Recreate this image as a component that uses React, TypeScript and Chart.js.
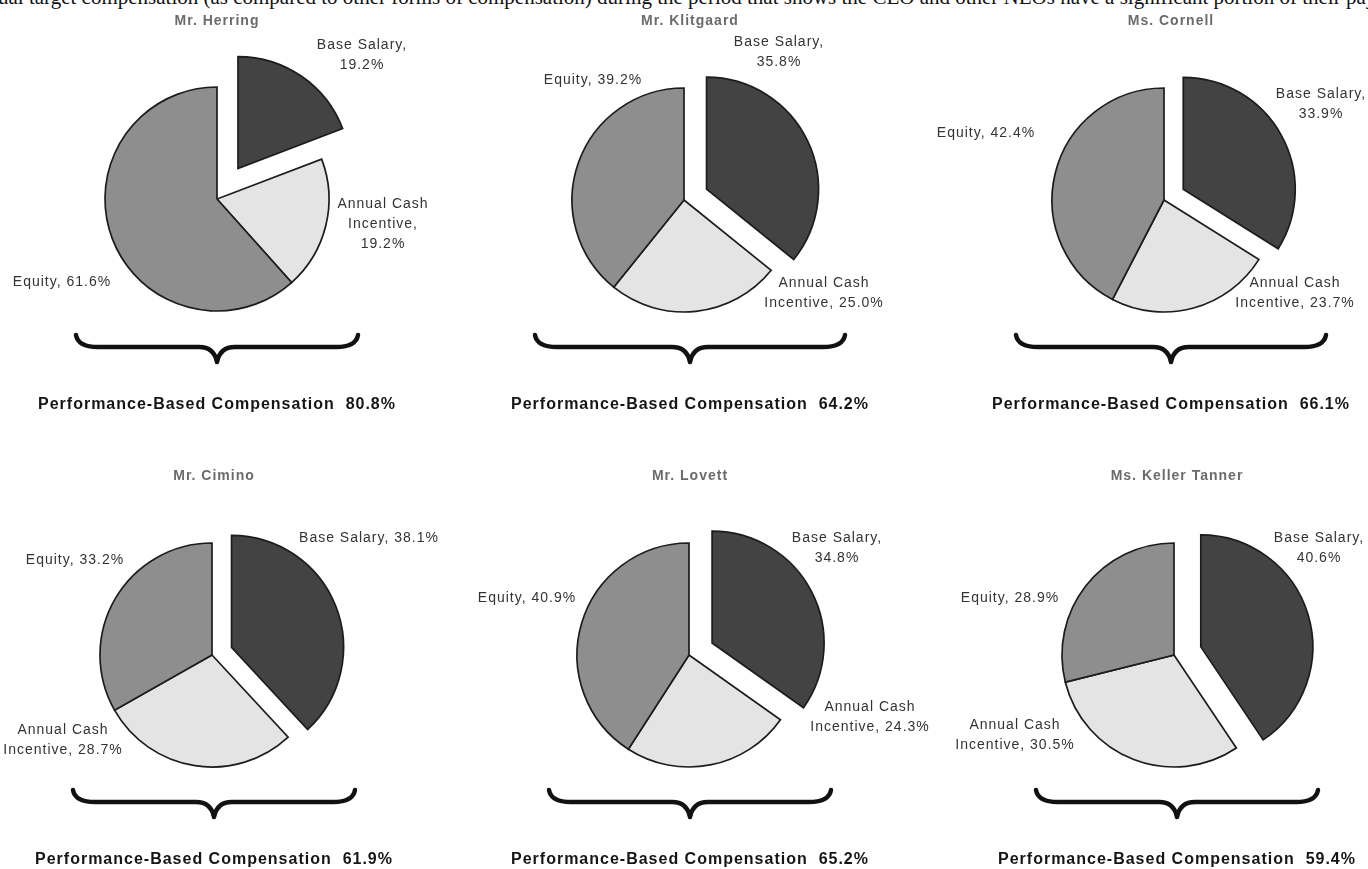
import React, { useEffect, useRef } from 'react';
import { Chart, registerables } from 'chart.js';

Chart.register(...registerables);

// ---------- data ----------
const EXECUTIVES = ['Mr. Herring', 'Mr. Klitgaard', 'Ms. Cornell', 'Mr. Cimino', 'Mr. Lovett', 'Ms. Keller Tanner'];
const COMPONENTS = ['Base Salary', 'Annual Cash Incentive', 'Equity'];
const BASE_SALARY = [19.2, 35.8, 33.9, 38.1, 34.8, 40.6];
const ANNUAL_CASH_INCENTIVE = [19.2, 25.0, 23.7, 28.7, 24.3, 30.5];
const EQUITY = [61.6, 39.2, 42.4, 33.2, 40.9, 28.9];
const CAPTION_TEXT = 'Performance-Based Compensation';
const HEADER_TEXT =
  'ual target compensation (as compared to other forms of compensation) during the period that shows the CEO and other NEOs have a significant portion of their pay';

// ---------- layout / style ----------
const PAGE_W = 1368;
const PAGE_H = 869;
const PANEL_W = 456;
const MARGIN = 40;
const ROW_H = 455;
const CANVAS_H = 440;
const RADIUS = 112;
const SLICE_COLORS = ['#434343', '#e4e4e4', '#8e8e8e'];
const FONT = '"Liberation Sans", Arial, Helvetica, sans-serif';
// pie centre inside each panel
const PIE_CENTER: [number, number][] = [
  [217, 199], [228, 200], [252, 200],
  [212, 200], [233, 200], [262, 200],
];
const TEXT_CENTER_X = [217, 234, 259, 214, 234, 265];
const EXPLODE = [37, 25, 22, 21, 26, 28];
const BRACE_HALF = [141, 155, 155, 141, 141, 141];
// label block centre offsets from pie centre, order = COMPONENTS
const LABEL_OFFSETS: [number, number][][] = [
  [[145, -144], [166, 25], [-155, 83]],
  [[95, -148], [140, 93], [-91, -120]],
  [[157, -96], [131, 93], [-178, -67]],
  [[157, -117], [-149, 85], [-137, -95]],
  [[148, -107], [181, 62], [-162, -57]],
  [[145, -107], [-159, 80], [-164, -57]],
];
// word counts at which label text wraps
const LABEL_BREAKS: number[][][] = [
  [[2], [2, 3], []],
  [[2], [2], []],
  [[2], [2], []],
  [[], [2], []],
  [[2], [2], []],
  [[2], [2], []],
];

function wrapLabel(text: string, breaks: number[]): string[] {
  const words = text.split(' ');
  const lines: string[] = [];
  let start = 0;
  for (const b of breaks) {
    lines.push(words.slice(start, b).join(' '));
    start = b;
  }
  lines.push(words.slice(start).join(' '));
  return lines;
}

function setSpacing(ctx: any, v: string) {
  if ('letterSpacing' in ctx) ctx.letterSpacing = v;
}

function makeExplodePlugin(distance: number) {
  return {
    id: 'explodeSlices',
    beforeDatasetDraw(chart: any, args: any) {
      const ctx = chart.ctx;
      args.meta.data.forEach((arc: any, i: number) => {
        const d = i === 0 ? distance : 0;
        const mid = (arc.startAngle + arc.endAngle) / 2;
        ctx.save();
        ctx.translate(Math.cos(mid) * d, Math.sin(mid) * d);
        arc.draw(ctx);
        ctx.restore();
      });
      return false;
    },
  };
}

function drawBrace(ctx: CanvasRenderingContext2D, xc: number, half: number, top: number, tip: number) {
  const h = top + 12;
  ctx.save();
  ctx.strokeStyle = '#111';
  ctx.lineWidth = 4.5;
  ctx.lineCap = 'round';
  ctx.lineJoin = 'round';
  ctx.beginPath();
  ctx.moveTo(xc - half, top);
  ctx.quadraticCurveTo(xc - half + 2, h, xc - half + 22, h);
  ctx.lineTo(xc - 18, h);
  ctx.quadraticCurveTo(xc - 3, h, xc, tip);
  ctx.quadraticCurveTo(xc + 3, h, xc + 18, h);
  ctx.lineTo(xc + half - 22, h);
  ctx.quadraticCurveTo(xc + half - 2, h, xc + half, top);
  ctx.stroke();
  ctx.restore();
}

function makeTextPlugin(index: number) {
  const values = [BASE_SALARY[index], ANNUAL_CASH_INCENTIVE[index], EQUITY[index]];
  const perf = ANNUAL_CASH_INCENTIVE[index] + EQUITY[index];
  return {
    id: 'panelText',
    afterDraw(chart: any) {
      const ctx = chart.ctx as CanvasRenderingContext2D;
      const arc = chart.getDatasetMeta(0).data[0];
      const cx = arc.x;
      const cy = arc.y;
      const tx = TEXT_CENTER_X[index] + MARGIN;
      ctx.save();
      setSpacing(ctx, '1px');
      ctx.textAlign = 'center';
      ctx.textBaseline = 'middle';
      // title
      ctx.font = `bold 14px ${FONT}`;
      ctx.fillStyle = '#6b6b6b';
      ctx.fillText(EXECUTIVES[index], tx, 21);
      // slice labels
      ctx.font = `14px ${FONT}`;
      ctx.fillStyle = '#333';
      COMPONENTS.forEach((name, i) => {
        const lines = wrapLabel(`${name}, ${values[i].toFixed(1)}%`, LABEL_BREAKS[index][i]);
        const [dx, dy] = LABEL_OFFSETS[index][i];
        const n = lines.length;
        lines.forEach((line, k) => {
          ctx.fillText(line, cx + dx, cy + dy + (k - (n - 1) / 2) * 20);
        });
      });
      // brace
      drawBrace(ctx, tx, BRACE_HALF[index], 335, 362);
      // caption
      ctx.font = `bold 16px ${FONT}`;
      ctx.fillStyle = '#151515';
      ctx.fillText(`${CAPTION_TEXT}  ${perf.toFixed(1)}%`, tx, 405);
      ctx.restore();
    },
  };
}

function PiePanel({ index }: { index: number }) {
  const ref = useRef<HTMLCanvasElement | null>(null);
  const cw = PANEL_W + 2 * MARGIN;
  useEffect(() => {
    if (!ref.current) return;
    const lcx = PIE_CENTER[index][0] + MARGIN;
    const lcy = PIE_CENTER[index][1];
    const S = 150;
    const chart = new Chart(ref.current, {
      type: 'pie',
      data: {
        labels: COMPONENTS,
        datasets: [
          {
            data: [BASE_SALARY[index], ANNUAL_CASH_INCENTIVE[index], EQUITY[index]],
            backgroundColor: SLICE_COLORS,
            borderColor: '#1c1c1c',
            borderWidth: 1.7,
            borderJoinStyle: 'miter',
            clip: false,
          } as any,
        ],
      },
      options: {
        responsive: false,
        animation: false,
        events: [],
        radius: RADIUS,
        rotation: 0,
        layout: {
          padding: {
            left: lcx - S,
            right: cw - lcx - S,
            top: lcy - S,
            bottom: CANVAS_H - lcy - S,
          },
        },
        plugins: {
          legend: { display: false },
          tooltip: { enabled: false },
          title: { display: false },
        },
      } as any,
      plugins: [makeExplodePlugin(EXPLODE[index]), makeTextPlugin(index)],
    });
    return () => chart.destroy();
  }, [index]);
  return (
    <canvas
      ref={ref}
      width={cw}
      height={CANVAS_H}
      style={{
        position: 'absolute',
        left: (index % 3) * PANEL_W - MARGIN,
        top: Math.floor(index / 3) * ROW_H,
        width: cw,
        height: CANVAS_H,
      }}
    />
  );
}

export default function App() {
  return (
    <div
      style={{
        position: 'fixed',
        left: 0,
        top: 0,
        width: PAGE_W,
        height: PAGE_H,
        overflow: 'hidden',
        background: '#fff',
      }}
    >
      <div
        style={{
          position: 'absolute',
          left: -2,
          top: -14,
          whiteSpace: 'nowrap',
          fontFamily: '"Liberation Serif", "Times New Roman", serif',
          fontSize: 21,
          lineHeight: '23px',
          color: '#111',
        }}
      >
        {HEADER_TEXT}
      </div>
      {EXECUTIVES.map((_, i) => (
        <PiePanel key={i} index={i} />
      ))}
    </div>
  );
}
